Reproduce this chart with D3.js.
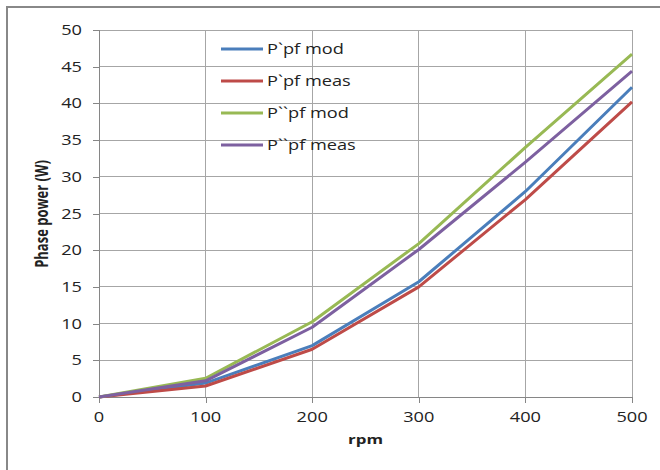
<!DOCTYPE html>
<html><head><meta charset="utf-8">
<script src="https://cdn.jsdelivr.net/npm/d3@7"></script>
<style>html,body{margin:0;padding:0;background:#fff;}svg{display:block;}</style>
</head><body>
<svg id="c" width="660" height="470"></svg>
<script>
const rpm = [0, 100, 200, 300, 400, 500];
const seriesNames = ["P`pf mod", "P`pf meas", "P``pf mod", "P``pf meas"];
const pMod1  = [0, 1.9, 7.0, 15.7, 28.0, 42.2];
const pMeas1 = [0, 1.5, 6.5, 15.0, 26.9, 40.2];
const pMod2  = [0, 2.55, 10.25, 20.9, 34.0, 46.7];
const pMeas2 = [0, 2.2, 9.5, 20.1, 32.0, 44.4];
const colors = ["#4a7ebb", "#be4b48", "#98b954", "#7d60a0"];
const xTicks = [0, 100, 200, 300, 400, 500];
const yTicks = [0, 5, 10, 15, 20, 25, 30, 35, 40, 45, 50];
const xTitle = "rpm";
const yTitle = "Phase power (W)";

const series = [pMod1, pMeas1, pMod2, pMeas2];
const svg = d3.select("#c");
const SX = 1.3;
const font = "'Open Sans', sans-serif";

const x = d3.scaleLinear().domain([0, 500]).range([99, 632]);
const y = d3.scaleLinear().domain([0, 50]).range([397, 30]);

// outer border
svg.append("path").attr("d", "M7,472 L7,7 L662,7")
  .attr("fill", "none").attr("stroke", "#888").attr("stroke-width", 2);

// gridlines
const g = svg.append("g");
g.selectAll(".hg").data(yTicks.filter(d => d > 0)).enter().append("line")
  .attr("x1", x(0)).attr("x2", x(500)).attr("y1", d => y(d)).attr("y2", d => y(d))
  .attr("stroke", "#a6a6a6").attr("stroke-width", 1).attr("shape-rendering", "crispEdges");
g.selectAll(".vg").data(xTicks.filter(d => d > 0)).enter().append("line")
  .attr("x1", d => x(d)).attr("x2", d => x(d)).attr("y1", y(0)).attr("y2", y(50))
  .attr("stroke", "#a6a6a6").attr("stroke-width", 1).attr("shape-rendering", "crispEdges");

// axes
const yAxis = d3.axisLeft(y).tickValues(yTicks).tickSize(6).tickFormat("");
const xAxis = d3.axisBottom(x).tickValues(xTicks).tickSize(6).tickFormat("");
const ya = svg.append("g").attr("transform", `translate(${x(0)},0)`).call(yAxis);
const xa = svg.append("g").attr("transform", `translate(0,${y(0)})`).call(xAxis);
[ya, xa].forEach(a => {
  a.selectAll("path").attr("stroke", "#868686").attr("shape-rendering", "crispEdges");
  a.selectAll("line").attr("stroke", "#868686").attr("shape-rendering", "crispEdges");
});

// tick labels (stretched)
svg.selectAll(".yl").data(yTicks).enter().append("text")
  .attr("transform", d => `translate(82,${y(d)}) scale(${SX},1)`)
  .attr("text-anchor", "end").attr("dy", "0.36em")
  .attr("font-family", font).attr("font-size", 14).attr("fill", "#222")
  .text(d => d);
svg.selectAll(".xl").data(xTicks).enter().append("text")
  .attr("transform", d => `translate(${x(d)},417) scale(${SX},1)`)
  .attr("text-anchor", "middle").attr("dy", "0.36em")
  .attr("font-family", font).attr("font-size", 14).attr("fill", "#222")
  .text(d => d);

// titles
svg.append("text").attr("transform", `translate(${(x(0)+x(500))/2},439) scale(${SX},1)`)
  .attr("text-anchor", "middle").attr("dy", "0.36em")
  .attr("font-family", font).attr("font-weight", "bold").attr("font-size", 13).attr("fill", "#222")
  .text(xTitle);
svg.append("text").attr("transform", `translate(42,214) scale(${SX},1) rotate(-90)`)
  .attr("text-anchor", "middle").attr("dy", "0.36em")
  .attr("font-family", font).attr("font-weight", "bold").attr("font-size", 13).attr("fill", "#222")
  .text(yTitle);

// lines
const line = d3.line().x((d, i) => x(rpm[i])).y(d => y(d));
svg.selectAll(".ser").data(series).enter().append("path")
  .attr("d", d => line(d)).attr("fill", "none")
  .attr("stroke", (d, i) => colors[i]).attr("stroke-width", 3)
  .attr("stroke-linejoin", "round").attr("stroke-linecap", "butt");

// legend
const leg = svg.append("g");
const legY = d3.scalePoint().domain(seriesNames).range([49, 145]);
seriesNames.forEach((n, i) => {
  leg.append("line").attr("x1", 221).attr("x2", 263).attr("y1", legY(n)).attr("y2", legY(n))
    .attr("stroke", colors[i]).attr("stroke-width", 3);
  leg.append("text").attr("transform", `translate(267,${legY(n)}) scale(${SX},1)`)
    .attr("dy", "0.36em").attr("font-family", font).attr("font-size", 14).attr("fill", "#222")
    .text(n);
});
</script>
</body></html>
